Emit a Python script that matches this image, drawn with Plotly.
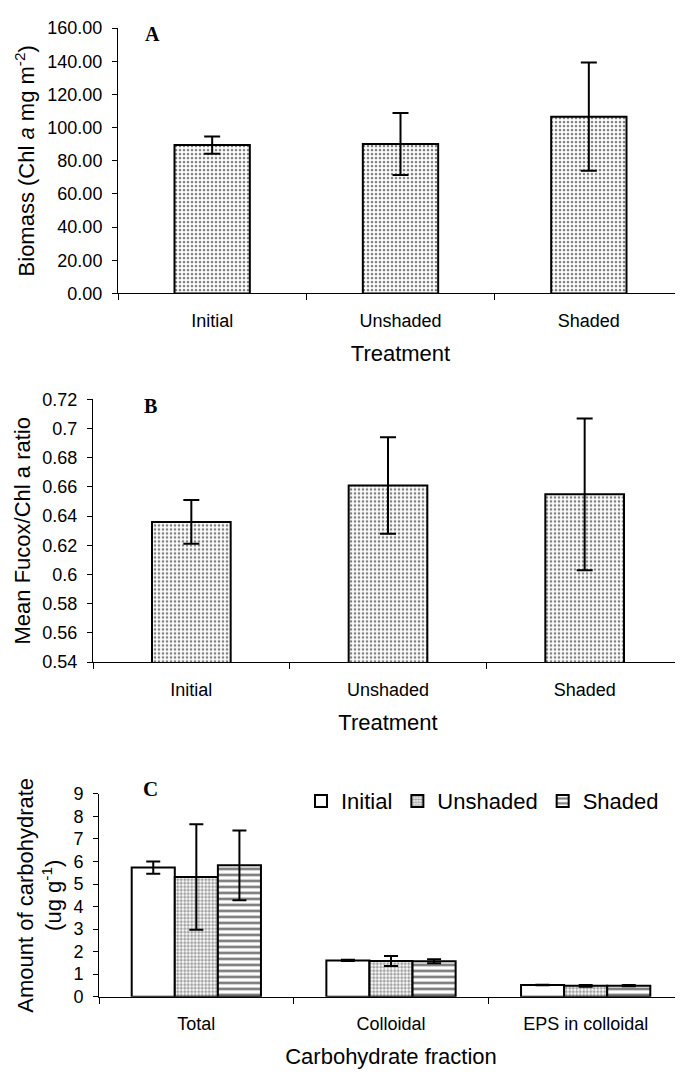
import plotly.graph_objects as go

# ---------------- data ----------------
treatments = ["Initial", "Unshaded", "Shaded"]

biomass_mean = [89.5, 90.1, 106.6]
biomass_err = [5.2, 18.7, 32.6]

fucox_mean = [0.636, 0.661, 0.655]
fucox_err = [0.015, 0.033, 0.052]

fractions = ["Total", "Colloidal", "EPS in colloidal"]
carb_initial = [5.73, 1.61, 0.52]
carb_initial_err = [0.27, 0.03, 0.01]
carb_unshaded = [5.31, 1.58, 0.48]
carb_unshaded_err = [2.34, 0.22, 0.04]
carb_shaded = [5.83, 1.57, 0.49]
carb_shaded_err = [1.55, 0.09, 0.03]

# page body has an 8px default margin; figure is sized to fit the window
OFF = 8
W, H = 683 - OFF, 1079 - OFF
FONT = "Liberation Sans, Arial, sans-serif"
SERIF = "Liberation Serif, Times New Roman, serif"


def px_x(p):
    return (p - OFF) / W


def px_y(p):
    return 1 - (p - OFF) / H


fig = go.Figure()

dot_pattern = dict(shape=".", fgcolor="black", bgcolor="white", size=4, solidity=0.35)

# Panel A
fig.add_trace(go.Bar(
    x=treatments, y=biomass_mean, xaxis="x", yaxis="y",
    width=0.4, offset=-0.2,
    marker=dict(color="white", line=dict(color="black", width=2), pattern=dot_pattern),
    error_y=dict(type="data", array=biomass_err, color="black", thickness=2, width=8),
    showlegend=False,
))

# Panel B
fig.add_trace(go.Bar(
    x=treatments, y=fucox_mean, xaxis="x2", yaxis="y2",
    width=0.4, offset=-0.2,
    marker=dict(color="white", line=dict(color="black", width=2), pattern=dot_pattern),
    error_y=dict(type="data", array=fucox_err, color="black", thickness=2, width=8),
    showlegend=False,
))

# Panel C
fig.add_trace(go.Bar(
    name="Initial", x=fractions, y=carb_initial, xaxis="x3", yaxis="y3",
    marker=dict(color="white", line=dict(color="black", width=2)),
    error_y=dict(type="data", array=carb_initial_err, color="black", thickness=2, width=7),
))
fig.add_trace(go.Bar(
    name="Unshaded", x=fractions, y=carb_unshaded, xaxis="x3", yaxis="y3",
    marker=dict(color="white", line=dict(color="black", width=2),
                pattern=dict(shape=".", fgcolor="#444444", bgcolor="white", size=3.5, solidity=0.55)),
    error_y=dict(type="data", array=carb_unshaded_err, color="black", thickness=2, width=7),
))
fig.add_trace(go.Bar(
    name="Shaded", x=fractions, y=carb_shaded, xaxis="x3", yaxis="y3",
    marker=dict(color="white", line=dict(color="black", width=2),
                pattern=dict(shape="-", fgcolor="black", bgcolor="white", size=6, solidity=0.45)),
    error_y=dict(type="data", array=carb_shaded_err, color="black", thickness=2, width=7),
))

tickfont = dict(family=FONT, size=18, color="black")
titlefont = dict(family=FONT, size=22, color="black")

xcommon = dict(type="category", showline=True, linecolor="black", linewidth=1,
               ticks="outside", tickson="boundaries", ticklen=6, tickcolor="black",
               tickfont=tickfont, showgrid=False, zeroline=False,
               ticklabelstandoff=11)
ycommon = dict(showline=True, linecolor="black", linewidth=1, ticks="outside",
               ticklen=5, tickcolor="black", tickfont=tickfont, showgrid=False,
               zeroline=False, ticklabelstandoff=6)

fig.update_layout(
    width=W, height=H,
    margin=dict(l=0, r=0, t=0, b=0),
    paper_bgcolor="white", plot_bgcolor="white",
    barmode="group", bargap=0.336, bargroupgap=0,
    font=dict(family=FONT, color="black"),
    xaxis=dict(xcommon, domain=[px_x(118), 1], anchor="y",
               title=dict(text="Treatment", font=titlefont, standoff=15)),
    yaxis=dict(ycommon, domain=[px_y(288.7), px_y(18.3)], anchor="x",
               range=[0, 160], dtick=20, tickformat=".2f",
               title=dict(text="Biomass (Chl <i>a</i> mg m<sup>-2</sup>)", font=titlefont, standoff=6)),
    xaxis2=dict(xcommon, domain=[px_x(93), 1], anchor="y2",
                title=dict(text="Treatment", font=titlefont, standoff=15)),
    yaxis2=dict(ycommon, domain=[px_y(664.3), px_y(396.7)], anchor="x2",
                range=[0.54, 0.72], dtick=0.02, tickformat="~g",
                title=dict(text="Mean Fucox/Chl a ratio", font=titlefont, standoff=5)),
    xaxis3=dict(xcommon, domain=[px_x(99), 1], anchor="y3",
                title=dict(text="Carbohydrate fraction", font=titlefont, standoff=15)),
    yaxis3=dict(ycommon, domain=[px_y(1005.3), px_y(798.7)], anchor="x3",
                range=[0, 9], dtick=1,
                title=dict(text="Amount of carbohydrate<br>(ug g<sup>-1</sup>)", font=titlefont, standoff=5)),
    legend=dict(orientation="h", x=px_x(664), xanchor="right", y=px_y(806), yanchor="middle",
                font=dict(family=FONT, size=22, color="black"), itemwidth=30,
                bgcolor="rgba(0,0,0,0)", tracegroupgap=0),
    annotations=[
        dict(text="<b>A</b>", x=px_x(152), y=px_y(24.5), xref="paper", yref="paper",
             xanchor="center", yanchor="middle",
             showarrow=False, font=dict(family=SERIF, size=20, color="black")),
        dict(text="<b>B</b>", x=px_x(150), y=px_y(403), xref="paper", yref="paper",
             xanchor="center", yanchor="middle",
             showarrow=False, font=dict(family=SERIF, size=20, color="black")),
        dict(text="<b>C</b>", x=px_x(150), y=px_y(794), xref="paper", yref="paper",
             xanchor="center", yanchor="middle",
             showarrow=False, font=dict(family=SERIF, size=21, color="black")),
    ],
)

fig.write_html("out.html")
